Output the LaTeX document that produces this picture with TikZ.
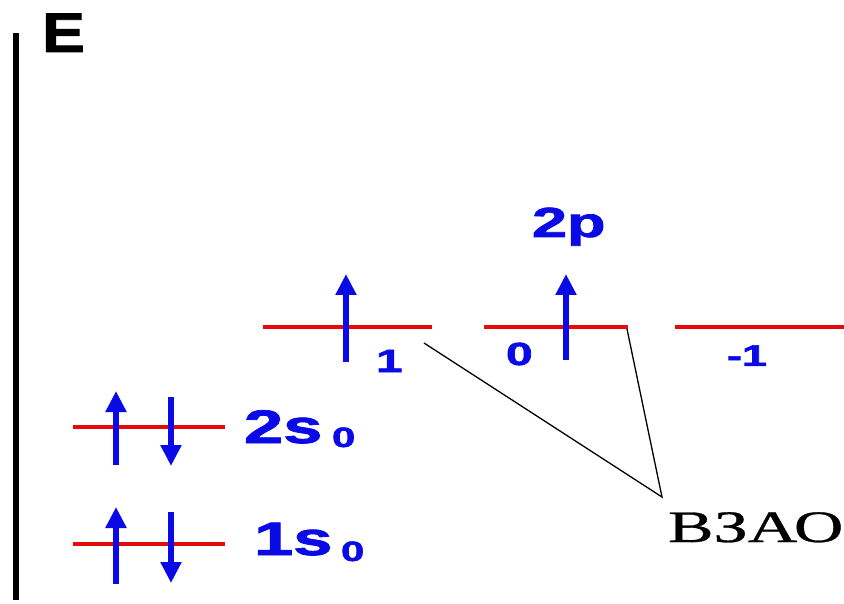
\documentclass[tikz,border=0pt]{standalone}
\usepackage{fontspec}
\setmainfont{Liberation Sans}
\newfontfamily\heavy{Liberation Sans}[BoldFeatures={FakeBold=1.6}]
\newfontfamily\serifcyr{Liberation Serif}[FakeBold=0.6]
\usetikzlibrary{arrows.meta}
\definecolor{lvlred}{RGB}{230,10,10}
\definecolor{elblue}{RGB}{10,10,230}
\tikzset{
  level/.style={draw=lvlred, line width=4pt},
  spin/.style={draw=elblue, line width=6pt, -{Triangle[length=21pt,width=20pt]}},
  lbl/.style={inner sep=0pt, outer sep=0pt, anchor=base west, text=elblue},
  link/.style={draw=black, line width=1.3pt},
}
\newcommand{\fs}[1]{\heavy\fontsize{#1}{#1}\selectfont\bfseries}
\newcommand{\wide}[2][1.5]{\scalebox{#1}[1]{#2}}
\begin{document}
\begin{tikzpicture}[x=1pt,y=-1pt]
\useasboundingbox (0,0) rectangle (844,604);
% energy axis
\draw[line width=6pt] (16,33) -- (16,600);
\node[lbl, text=black] (E) at (42,52) {\fs{56}\wide[1.15]{E}};
% 2p levels
\coordinate (p1a) at (263,327); \coordinate (p1b) at (432,327);
\coordinate (p0a) at (484,327); \coordinate (p0b) at (628,327);
\coordinate (pma) at (675,327); \coordinate (pmb) at (844,327);
\draw[level] (p1a) -- (p1b);
\draw[level] (p0a) -- (p0b);
\draw[level] (pma) -- (pmb);
\draw[spin] (346,362) -- (346,274);
\draw[spin] (566,360) -- (566,274);
\node[lbl] (p) at (532,237) {\fs{42}\wide{2p}};
\node[lbl] (m1) at (376,372) {\fs{32}\wide{1}};
\node[lbl] (m0) at (506,365) {\fs{32}\wide{0}};
\node[lbl] (mm1) at (727,366) {\fs{30}\wide{-1}};
% 2s level
\coordinate (s2a) at (73,427); \coordinate (s2b) at (225,427);
\draw[level] (s2a) -- (s2b);
\draw[spin] (116,465) -- (116,391);
\draw[spin] (171,397) -- (171,466);
\node[lbl] (s2) at (244,443) {\fs{47}\wide{2s}};
\node[lbl] (s2i) at (332,447) {\fs{28}\wide{0}};
% 1s level
\coordinate (s1a) at (73,544); \coordinate (s1b) at (225,544);
\draw[level] (s1a) -- (s1b);
\draw[spin] (116,584) -- (116,507);
\draw[spin] (171,512) -- (171,583);
\node[lbl] (s1) at (254,555) {\fs{47}\wide{1s}};
\node[lbl] (s1i) at (341,561) {\fs{28}\wide{0}};
% label
\node[inner sep=0pt, outer sep=0pt, anchor=base west] (vzao) at (668,542) {\serifcyr\fontsize{45}{45}\selectfont\wide[1.52]{ВЗАО}};
\coordinate (tip) at (662,497);
\coordinate (l1) at (424,343);
\coordinate (l2) at (627,329);
\draw[link] (l1) -- (tip) -- (l2);
\end{tikzpicture}
\end{document}
